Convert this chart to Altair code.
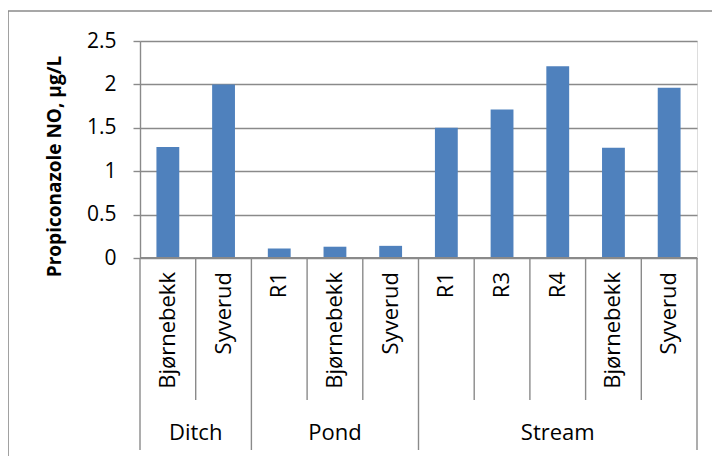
import altair as alt
import pandas as pd

groups = ["Ditch", "Ditch", "Pond", "Pond", "Pond", "Stream", "Stream", "Stream", "Stream", "Stream"]
sites = ["Bjørnebekk", "Syverud", "R1", "Bjørnebekk", "Syverud", "R1", "R3", "R4", "Bjørnebekk", "Syverud"]
values = [1.28, 2.0, 0.11, 0.13, 0.14, 1.5, 1.71, 2.21, 1.27, 1.96]
y_ticks = [0, 0.5, 1, 1.5, 2, 2.5]
y_title = "Propiconazole NO, µg/L"

FONT = "Open Sans"
GRAY = "#8a8a8a"
BLUE = "#4F81BD"

n = len(sites)
df = pd.DataFrame({"i": list(range(n)), "group": groups, "site": sites, "value": values})

# group spans
grp_rows = []
start = 0
for k in range(1, n + 1):
    if k == n or groups[k] != groups[start]:
        grp_rows.append({"group": groups[start], "start": start, "end": k})
        start = k
gdf = pd.DataFrame(grp_rows)
gdf["mid"] = (gdf["start"] + gdf["end"]) / 2

inner = [k for k in range(1, n) if groups[k] == groups[k - 1]]
outer = sorted(set([0, n] + [k for k in range(1, n) if groups[k] != groups[k - 1]]))
inner_df = pd.DataFrame({"b": inner})
outer_df = pd.DataFrame({"b": outer})

W, H = 557, 217
xscale = alt.Scale(domain=[0, n], nice=False, zero=False)

bars = alt.Chart(df).transform_calculate(
    x0="datum.i + 0.295", x1="datum.i + 0.705"
).mark_bar(color=BLUE).encode(
    x=alt.X("x0:Q", scale=xscale, axis=None),
    x2="x1:Q",
    y=alt.Y(
        "value:Q",
        scale=alt.Scale(domain=[0, 2.5], nice=False),
        axis=alt.Axis(
            values=y_ticks, format="~g", grid=True, gridColor=GRAY, gridWidth=1.4,
            domainColor=GRAY, domainWidth=1.4, tickColor=GRAY, tickWidth=1.4, tickSize=7,
            labelFont=FONT, labelFontSize=21, labelColor="#000", labelPadding=17,
            title=y_title, titleFont=FONT, titleFontSize=19, titleFontWeight="bold",
            titleColor="#000", titleAngle=270, titleX=-86, titleY=125,
            titleAlign="center", titleBaseline="middle",
        ),
    ),
    y2=alt.datum(0),
)

baseline = alt.Chart(outer_df).mark_rule(color=GRAY, strokeWidth=1.4).encode(
    x=alt.value(0), x2=alt.value(W), y=alt.value(H)
)

site_labels = alt.Chart(df).transform_calculate(xc="datum.i + 0.5").mark_text(
    angle=270, align="right", baseline="middle", font=FONT, fontSize=22, color="#000"
).encode(x=alt.X("xc:Q", scale=xscale), y=alt.value(231), text="site:N")

group_labels = alt.Chart(gdf).mark_text(
    align="center", baseline="middle", font=FONT, fontSize=22, color="#000"
).encode(x=alt.X("mid:Q", scale=xscale), y=alt.value(392), text="group:N")

inner_rules = alt.Chart(inner_df).mark_rule(color=GRAY, strokeWidth=1.4).encode(
    x=alt.X("b:Q", scale=xscale), y=alt.value(H), y2=alt.value(359)
)
outer_rules = alt.Chart(outer_df).mark_rule(color=GRAY, strokeWidth=1.4).encode(
    x=alt.X("b:Q", scale=xscale), y=alt.value(H), y2=alt.value(409)
)

frame = alt.Chart(pd.DataFrame({"f": [0]})).mark_rect(
    filled=False, stroke=GRAY, strokeWidth=1.6
).encode(x=alt.value(-132), x2=alt.value(700), y=alt.value(-30), y2=alt.value(480))

chart = alt.layer(
    frame, bars, baseline, inner_rules, outer_rules, site_labels, group_labels
).properties(
    width=W, height=H,
    autosize=alt.AutoSizeParams(type="none"),
    padding={"left": 132, "top": 33, "right": 15, "bottom": 200},
).configure_view(strokeWidth=0).configure(background="white")

chart.save("out.html", embed_options={"renderer": "svg", "actions": False})
